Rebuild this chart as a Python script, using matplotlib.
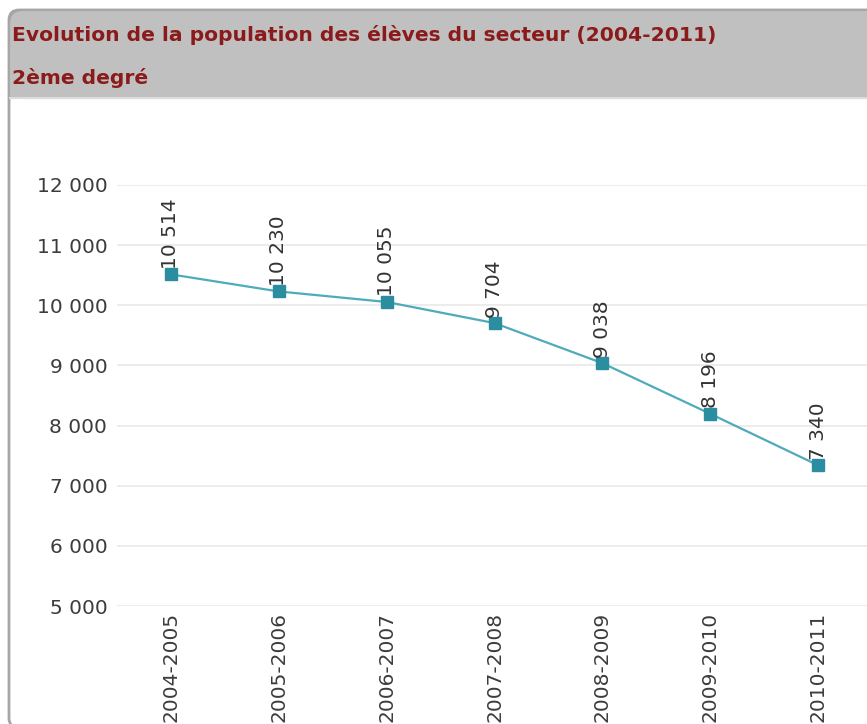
import matplotlib
matplotlib.use("Agg")
import matplotlib.pyplot as plt
from matplotlib.patches import FancyBboxPatch, Rectangle

# Données
annees = ["2004-2005", "2005-2006", "2006-2007", "2007-2008",
          "2008-2009", "2009-2010", "2010-2011"]
eleves = [10514, 10230, 10055, 9704, 9038, 8196, 7340]
yticks = [5000, 6000, 7000, 8000, 9000, 10000, 11000, 12000]

titre = "Evolution de la population des élèves du secteur (2004-2011)"
sous_titre = "2ème degré"

W, H = 867, 724
fig = plt.figure(figsize=(W / 100, H / 100), dpi=100)

# Fond : cadre arrondi + bandeau gris
bg = fig.add_axes([0, 0, 1, 1], zorder=0)
bg.set_xlim(0, W)
bg.set_ylim(H, 0)
bg.axis("off")
bg.add_patch(FancyBboxPatch((9, 10), 900, 718, boxstyle="round,pad=0,rounding_size=10",
                            facecolor="white", edgecolor="#a6a6a6", linewidth=2))
bg.add_patch(FancyBboxPatch((9, 10), 900, 88, boxstyle="round,pad=0,rounding_size=14",
                            facecolor="#c0c0c0", edgecolor="#a6a6a6", linewidth=1.5))
bg.add_patch(Rectangle((10, 50), 900, 47, facecolor="#c0c0c0", edgecolor="none"))
bg.plot([10, W], [98, 98], color="#dcdcdc", lw=1.5)
bg.text(12, 35, titre, color="#8b1a1a", fontsize=14.6, fontweight="bold",
        va="center", ha="left")
bg.text(12, 78, sous_titre, color="#8b1a1a", fontsize=14.6, fontweight="bold",
        va="center", ha="left")

# Graphique
ax = fig.add_axes([117 / W, 1 - 606 / H, 755 / W, (606 - 185) / H], zorder=1)
ax.patch.set_alpha(0)
x = list(range(len(annees)))
ax.plot(x, eleves, color="#4fabbb", lw=1.6, marker="s", markersize=8,
        markerfacecolor="#2b8ea0", markeredgecolor="#2b8ea0", zorder=3)

for xi, v in zip(x, eleves):
    lab = f"{v:,}".replace(",", " ")
    ax.annotate(lab, (xi, v), xytext=(0, 4), textcoords="offset points",
                rotation=90, ha="center", va="bottom", fontsize=14.5, color="#333333")

ax.set_xlim(-0.5, 6.5)
ax.set_ylim(5000, 12000)
ax.set_yticks(yticks)
ax.set_yticklabels([f"{t:,}".replace(",", " ") for t in yticks])
ax.set_xticks(x)
ax.set_xticklabels(annees, rotation=90)
ax.tick_params(axis="both", length=0, labelsize=14.5, labelcolor="#3c3c3c")
ax.tick_params(axis="y", pad=7)
ax.tick_params(axis="x", pad=4)
ax.grid(axis="y", color="#ebebeb", lw=1.3)
ax.set_axisbelow(True)
for s in ax.spines.values():
    s.set_visible(False)

fig.savefig("out.png", dpi=100)
